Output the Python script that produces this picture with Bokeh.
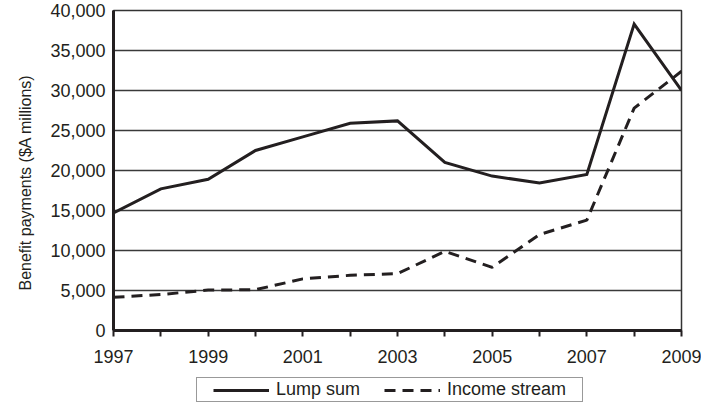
from bokeh.plotting import figure
from bokeh.layouts import column
from bokeh.models import (Range1d, FixedTicker, NumeralTickFormatter, Legend, LegendItem, Title)
from bokeh.embed import file_html
from bokeh.resources import INLINE

years = [1997, 1998, 1999, 2000, 2001, 2002, 2003, 2004, 2005, 2006, 2007, 2008, 2009]
lump_sum = [14700, 17700, 18900, 22500, 24200, 25900, 26200, 21000, 19300, 18450, 19500, 38300, 30000]
income_stream = [4150, 4500, 5050, 5100, 6450, 6900, 7100, 9900, 7900, 12000, 13800, 27800, 32400]

y_ticks = [0, 5000, 10000, 15000, 20000, 25000, 30000, 35000, 40000]
x_label_years = [1997, 1999, 2001, 2003, 2005, 2007, 2009]
x_minor_years = [1998, 2000, 2002, 2004, 2006, 2008]
y_title = "Benefit payments ($A millions)"

INK = "#231f20"
FONT = "Liberation Sans"

p = figure(width=701, height=370, output_backend="svg", toolbar_location=None,
           x_range=Range1d(1997, 2009), y_range=Range1d(0, 40000),
           min_border_left=112, min_border_right=20, min_border_top=10,
           min_border_bottom=40)

p.background_fill_color = "white"
p.border_fill_color = "white"
p.outline_line_color = "#333333"
p.outline_line_width = 1.5

# grids
p.xgrid.grid_line_color = None
p.ygrid.ticker = FixedTicker(ticks=y_ticks)
p.ygrid.grid_line_color = "#3a3a3a"
p.ygrid.grid_line_width = 1.5

# y axis
yax = p.yaxis[0]
yax.ticker = FixedTicker(ticks=y_ticks)
yax.formatter = NumeralTickFormatter(format="0,0")
yax.major_label_text_font = FONT
yax.major_label_text_font_size = "18px"
yax.major_label_text_color = INK
yax.major_label_standoff = 8
yax.major_tick_out = 0
yax.major_tick_in = 0
yax.minor_tick_out = 0
yax.minor_tick_in = 0
yax.axis_line_color = INK
yax.axis_line_width = 3

# y axis title, placed a little below the frame's middle as in the original
yt = Title(text=y_title, align="left", offset=40, standoff=28, vertical_align="bottom",
           text_font=FONT, text_font_size="16px", text_font_style="normal",
           text_color=INK)
p.add_layout(yt, "left")

# x axis
xax = p.xaxis[0]
xax.ticker = FixedTicker(ticks=x_label_years, minor_ticks=x_minor_years)
xax.major_label_text_font = FONT
xax.major_label_text_font_size = "18px"
xax.major_label_text_color = INK
xax.major_label_standoff = 13
xax.major_tick_out = 6
xax.major_tick_in = 0
xax.minor_tick_out = 6
xax.minor_tick_in = 0
xax.major_tick_line_color = INK
xax.minor_tick_line_color = INK
xax.major_tick_line_width = 2
xax.minor_tick_line_width = 2
xax.axis_line_color = INK
xax.axis_line_width = 3

p.line(years, lump_sum, line_color=INK, line_width=3, line_join="miter")
p.line(years, income_stream, line_color=INK, line_width=3, line_dash="11 7")

# legend strip below the chart
lg = figure(width=701, height=42, output_backend="svg", toolbar_location=None,
            x_range=Range1d(0, 1), y_range=Range1d(0, 1),
            x_axis_type=None, y_axis_type=None,
            min_border_left=0, min_border_right=0, min_border_top=0, min_border_bottom=0)
lg.outline_line_color = None
lg.xgrid.grid_line_color = None
lg.ygrid.grid_line_color = None
lg.background_fill_color = "white"
lg.border_fill_color = "white"
l1 = lg.line(years, lump_sum, line_color=INK, line_width=3)
l2 = lg.line(years, income_stream, line_color=INK, line_width=3, line_dash="11 7")

legend = Legend(items=[LegendItem(label="Lump sum", renderers=[l1]),
                       LegendItem(label="Income stream", renderers=[l2])],
                orientation="horizontal", location=(83, 10))
legend.label_text_font = FONT
legend.label_text_font_size = "18px"
legend.label_text_color = INK
legend.border_line_color = "#333333"
legend.border_line_width = 1.5
legend.glyph_width = 56
legend.glyph_height = 20
legend.label_height = 20
legend.label_standoff = 7
legend.spacing = 24
legend.margin = 0
try:
    legend.padding = (16, 1)
except Exception:
    legend.padding = 2
legend.background_fill_alpha = 1
lg.add_layout(legend, "center")

layout = column(p, lg, spacing=0)
open("out.html", "w").write(file_html(layout, INLINE))
